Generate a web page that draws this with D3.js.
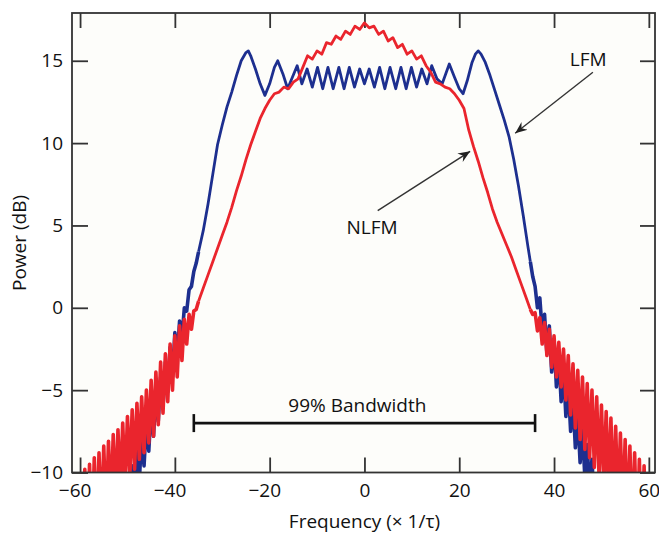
<!DOCTYPE html>
<html>
<head>
<meta charset="utf-8">
<script src="https://cdn.jsdelivr.net/npm/d3@7"></script>
<style>
  html, body { margin: 0; padding: 0; background: #ffffff; }
  svg { display: block; }
  text { font-family: "Open Sans", "Noto Sans", sans-serif; fill: #111; }
</style>
</head>
<body>
<svg id="chart" width="659" height="533"></svg>
<script>
// ---------------- data ----------------
const freqTicks = [-60, -40, -20, 0, 20, 40, 60];
const powerTicks = [-10, -5, 0, 5, 10, 15];

const lfmLeftTail = [-19.5, -21.3, -18.6, -20.4, -17.7, -19.5, -16.8, -18.6, -15.9, -17.7,
  -15.0, -16.8, -14.1, -15.9, -13.2, -15.0, -12.3, -14.1, -11.4, -13.2,
  -10.5, -12.3, -9.6, -11.4, -8.7, -10.5, -7.8, -9.6, -6.9, -8.7,
  -6.0, -7.8, -5.1, -6.9, -4.2, -6.0, -3.3, -5.1, -2.4, -4.2,
  -1.5, -3.0, -0.8, -1.8, 0.0, -0.2, 1.1, 1.3, 2.2, 2.7];
const lfmCoreFreq = [-35, -34, -33, -32, -31, -30, -29, -28, -27, -26, -25, -24.5, -24, -23, -22, -21,
  -20, -19, -18.3, -17.2, -16.2, -15.2, -14.2, -13.2, -12.1, -11.0, -9.9, -8.8, -7.7, -6.6, -5.4,
  -4.3, -3.2, -2.1, -1.0, 0, 1.0, 2.1, 3.2, 4.3, 5.4, 6.6, 7.7, 8.8, 9.9, 11.0, 12.1, 13.2, 14.2,
  15.3, 16.4, 17.9, 19.0, 20.0, 20.8, 21.7, 22.7, 23.4, 24.0, 24.6, 25.5, 26.5, 27.5, 28.5, 29.5,
  30.5, 31.5, 32.5, 33.5, 34.5, 35];
const lfmCorePower = [3.4, 4.7, 6.3, 8.1, 9.9, 11.1, 12.2, 13.1, 14.1, 15.0, 15.5, 15.6, 15.3, 14.5, 13.6, 12.9,
  13.6, 14.6, 15.0, 14.2, 13.3, 14.0, 14.7, 13.6, 14.5, 13.4, 14.6, 13.3, 14.6, 13.3, 14.6,
  13.3, 14.6, 13.4, 14.5, 13.6, 14.5, 13.4, 14.6, 13.3, 14.6, 13.3, 14.6, 13.3, 14.6, 13.4, 14.5, 13.6, 14.7,
  13.9, 13.6, 14.8, 14.0, 13.3, 13.0, 13.8, 14.9, 15.4, 15.6, 15.4, 14.9, 14.1, 13.2, 12.3, 11.4,
  10.4, 9.0, 7.4, 5.6, 3.7, 2.8];
const lfmRightTail = [1.9, 1.3, 0.0, 0.6, -1.4, -0.4, -2.8, -1.1, -3.9, -2.0,
  -4.8, -2.9, -5.7, -3.8, -6.6, -4.7, -7.5, -5.6, -8.5, -6.5,
  -9.4, -7.4, -10.3, -8.3, -11.2, -9.2, -12.2, -10.1, -13.1, -11.0,
  -14.0, -11.9, -14.9, -12.8, -15.8, -13.7, -16.7, -14.6, -17.6, -15.5,
  -18.5, -16.4, -19.4, -17.3, -20.3, -18.2, -21.3, -19.1, -22.2, -20.0];

// NLFM (red)
const nlfmLeftTail = [-10.2, -15.2, -9.8, -14.8, -9.5, -14.2, -9.1, -13.8, -8.8, -13.2,
  -8.4, -12.8, -8.1, -12.2, -7.7, -11.8, -7.4, -11.2, -7.0, -10.8,
  -6.6, -10.2, -6.2, -9.8, -5.8, -9.2, -5.4, -8.8, -5.0, -8.2,
  -4.4, -7.8, -3.9, -7.1, -3.3, -6.4, -2.8, -5.7, -2.2, -5.0,
  -1.7, -4.2, -1.1, -3.2, -0.7, -2.2, -0.4, -1.3, -0.2, -0.1];
const nlfmCore = [0.4, 1.2, 2.0, 2.8, 3.6, 4.4, 5.2, 6.1, 7.1, 8.0,
  9.0, 9.9, 10.7, 11.5, 12.1, 12.6, 13.0, 13.1, 13.4, 13.3,
  13.7, 13.9, 14.6, 15.3, 15.1, 15.6, 15.4, 16.1, 16.0, 16.5,
  16.3, 16.8, 16.6, 17.1, 16.9, 17.3, 17.0, 17.1, 16.6, 16.8,
  16.2, 16.4, 15.8, 16.0, 15.4, 15.6, 15.1, 15.3, 14.7, 14.3,
  13.7, 13.6, 13.4, 13.3, 13.0, 12.6, 12.1, 10.8, 9.8, 8.9,
  7.9, 7.0, 6.0, 5.2, 4.5, 3.8, 3.1, 2.3, 1.5, 0.7, -0.1]; // f = -35 … 35
const nlfmRightTail = [-0.4, -0.3, -1.4, -0.6, -2.2, -0.9, -2.9, -1.3, -3.6, -1.7,
  -4.2, -2.1, -4.8, -2.5, -5.6, -2.9, -6.5, -3.4, -7.3, -3.8,
  -8.0, -4.2, -8.6, -4.6, -9.1, -5.0, -9.7, -5.4, -10.3, -5.9,
  -10.8, -6.3, -11.3, -6.7, -11.8, -7.2, -12.3, -7.6, -12.8, -8.0,
  -13.3, -8.4, -13.8, -8.8, -14.3, -9.2, -14.8, -9.6, -15.3, -10.0];

const leftTailFreq = d3.range(-60, -35.25, 0.5);
const rightTailFreq = d3.range(35.5, 60.25, 0.5);
const nlfmCoreFreq = d3.range(-35, 35.5, 1);

const bandwidth = [-36, 36];
const bandwidthLevel = -7;

// ---------------- build ----------------
const zip = (f, v) => f.map((d, i) => [d, v[i]]);
const series = [
  { color: "#1d2f8f",
    left: zip(leftTailFreq, lfmLeftTail), core: zip(lfmCoreFreq, lfmCorePower), right: zip(rightTailFreq, lfmRightTail) },
  { color: "#ea252d",
    left: zip(leftTailFreq, nlfmLeftTail), core: zip(nlfmCoreFreq, nlfmCore), right: zip(rightTailFreq, nlfmRightTail) }
];

const svg = d3.select("#chart");
const x = d3.scaleLinear().domain([-61.7, 61.3]).range([72, 655]);
const y = d3.scaleLinear().domain([-10, 17.9]).range([472.5, 13]);
const [x0, x1] = x.range();
const [y0, y1] = y.range();
const FS = 19;
const axisColor = "#333";

svg.append("rect").attr("x", x0).attr("y", y1).attr("width", x1 - x0).attr("height", y0 - y1)
  .attr("fill", "#fdfdfa");

svg.append("defs").append("clipPath").attr("id", "plotclip")
  .append("rect").attr("x", x0).attr("y", y1).attr("width", x1 - x0).attr("height", y0 - y1);

// axes
function styleAxis(g) {
  g.select(".domain").remove();
  g.selectAll(".tick line").attr("stroke", axisColor).attr("stroke-width", 1.8);
  g.selectAll(".tick text").attr("font-size", FS).attr("fill", "#111")
    .style("font-family", '"Open Sans", sans-serif');
}
const gx = svg.append("g").attr("transform", `translate(0,${y0})`)
  .call(d3.axisBottom(x).tickValues(freqTicks).tickSize(-15).tickPadding(11)).call(styleAxis);
gx.selectAll(".tick text").attr("dx", d => d < 0 ? -5.4 : 0);
svg.append("g").attr("transform", `translate(0,${y1})`)
  .call(d3.axisTop(x).tickValues(freqTicks).tickSize(-15).tickFormat("")).call(styleAxis);
svg.append("g").attr("transform", `translate(${x0},0)`)
  .call(d3.axisLeft(y).tickValues(powerTicks).tickSize(-16).tickPadding(9)).call(styleAxis);
svg.append("g").attr("transform", `translate(${x1},0)`)
  .call(d3.axisRight(y).tickValues(powerTicks).tickSize(-15).tickFormat("")).call(styleAxis);

// curves
const line = d3.line().x(d => x(d[0])).y(d => y(d[1]));
const plot = svg.append("g").attr("clip-path", "url(#plotclip)");
series.forEach(s => {
  const core = s.core;
  plot.append("path").datum([...s.left, core[0]]).attr("d", line)
    .attr("fill", "none").attr("stroke", s.color).attr("stroke-width", 3.6).attr("stroke-linejoin", "round");
  plot.append("path").datum([core[core.length - 1], ...s.right]).attr("d", line)
    .attr("fill", "none").attr("stroke", s.color).attr("stroke-width", 3.6).attr("stroke-linejoin", "round");
  plot.append("path").datum(core).attr("d", line)
    .attr("fill", "none").attr("stroke", s.color).attr("stroke-width", 2.8).attr("stroke-linejoin", "round");
});

// frame
svg.append("rect").attr("x", x0).attr("y", y1).attr("width", x1 - x0).attr("height", y0 - y1)
  .attr("fill", "none").attr("stroke", axisColor).attr("stroke-width", 1.8);

// axis titles
svg.append("text").attr("x", x(0)).attr("y", 528).attr("text-anchor", "middle")
  .attr("font-size", FS).text("Frequency (× 1/τ)");
svg.append("text").attr("transform", `translate(26,${243}) rotate(-90)`).attr("text-anchor", "middle")
  .attr("font-size", FS).text("Power (dB)");

// annotations
svg.select("defs").append("marker").attr("id", "dart").attr("viewBox", "-12 -6 14 12")
  .attr("refX", 0).attr("refY", 0).attr("markerWidth", 14).attr("markerHeight", 12)
  .attr("markerUnits", "userSpaceOnUse").attr("orient", "auto")
  .append("path").attr("d", "M0,0 L-12,-5 L-8,0 L-12,5 Z").attr("fill", "#222");

function arrow(fx1, py1, fx2, py2) {
  svg.append("line").attr("x1", x(fx1)).attr("y1", y(py1)).attr("x2", x(fx2)).attr("y2", y(py2))
    .attr("stroke", "#333").attr("stroke-width", 1.4).attr("marker-end", "url(#dart)");
}
arrow(48.2, 14.3, 31.8, 10.6);
arrow(2.8, 5.9, 22.3, 9.5);
svg.append("text").attr("x", x(47.2)).attr("y", y(14.7)).attr("text-anchor", "middle")
  .attr("font-size", FS).text("LFM");
svg.append("text").attr("x", x(1.6)).attr("y", y(4.5)).attr("text-anchor", "middle")
  .attr("font-size", FS).text("NLFM");

// 99% bandwidth bar
const bw = svg.append("g").attr("stroke", "#111").attr("stroke-width", 2.6);
bw.append("line").attr("x1", x(bandwidth[0])).attr("x2", x(bandwidth[1]))
  .attr("y1", y(bandwidthLevel)).attr("y2", y(bandwidthLevel));
bandwidth.forEach(b => bw.append("line").attr("x1", x(b)).attr("x2", x(b))
  .attr("y1", y(bandwidthLevel) - 9).attr("y2", y(bandwidthLevel) + 9));
svg.append("text").attr("x", x(-1.5)).attr("y", y(-6.3)).attr("text-anchor", "middle")
  .attr("font-size", FS).text("99% Bandwidth");
</script>
</body>
</html>
